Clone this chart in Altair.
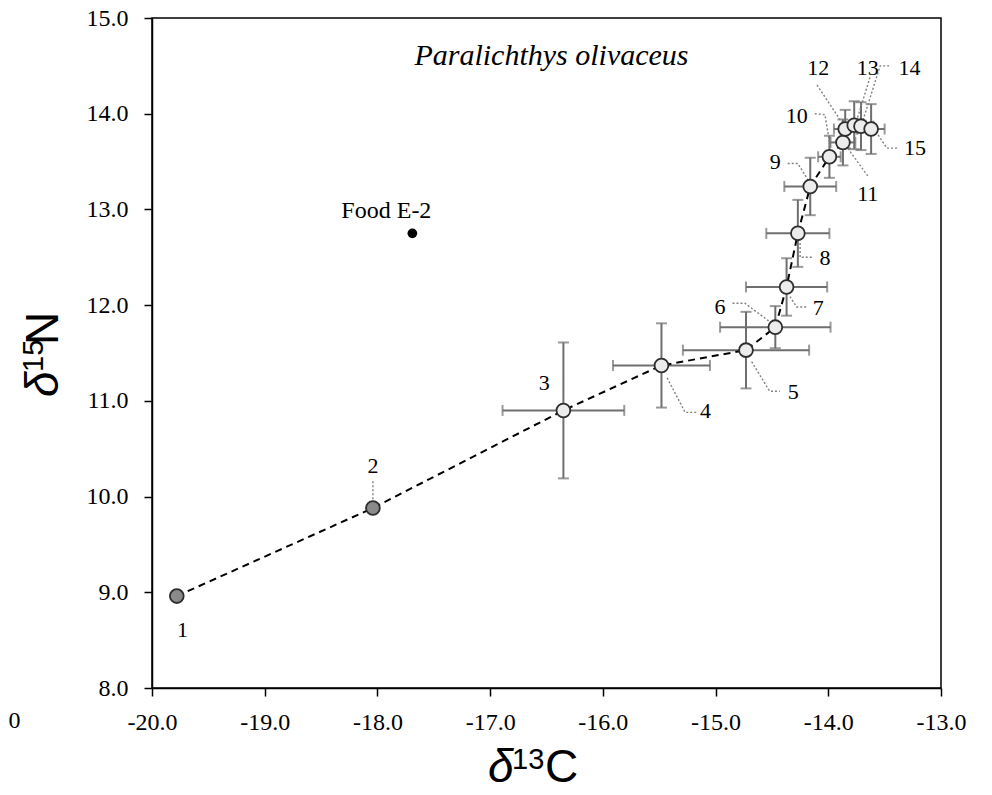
import altair as alt
import pandas as pd

# ---- data ----
stage = [str(i) for i in range(1, 16)]
d13c = [-19.78, -18.04, -16.35, -15.48, -14.73, -14.47, -14.37, -14.27,
        -14.16, -13.99, -13.87, -13.85, -13.77, -13.71, -13.62]
d15n = [8.96, 9.88, 10.90, 11.37, 11.53, 11.77, 12.19, 12.75,
        13.24, 13.55, 13.70, 13.84, 13.88, 13.87, 13.84]
sd_c = [0, 0, 0.54, 0.43, 0.56, 0.49, 0.36, 0.28, 0.23, 0.10, 0.11, 0.10, 0.10, 0.11, 0.12]
sd_n = [0, 0, 0.71, 0.44, 0.40, 0.22, 0.30, 0.35, 0.30, 0.22, 0.24, 0.20, 0.25, 0.25, 0.26]
group = ["early", "early"] + ["late"] * 13

food_name = ["Food E-2"]
food_c = [-17.69]
food_n = [12.75]

# annotation labels (data coordinates)
lab_text = ["1", "2", "3", "4", "5", "6", "7", "8", "9", "10", "11", "12", "13", "14", "15"]
lab_x = [-19.73, -18.04, -16.52, -15.09, -14.31, -14.96, -14.09, -14.03,
         -14.47, -14.28, -13.65, -14.09, -13.65, -13.28, -13.23]
lab_y = [8.61, 10.32, 11.19, 10.89, 11.09, 11.98, 11.97, 12.49,
         13.50, 13.98, 13.16, 14.48, 14.48, 14.48, 13.64]

# leader polylines
lead_id = ["2", "2",
           "4", "4", "4",
           "5", "5", "5",
           "6", "6", "6",
           "7", "7", "7",
           "8", "8", "8",
           "9", "9", "9",
           "10", "10", "10",
           "11", "11",
           "12", "12",
           "13", "13",
           "14", "14", "14",
           "15", "15", "15"]
lead_x = [-18.04, -18.04,
          -15.43, -15.27, -15.17,
          -14.68, -14.52, -14.43,
          -14.85, -14.74, -14.50,
          -14.34, -14.28, -14.19,
          -14.25, -14.25, -14.14,
          -14.36, -14.27, -14.18,
          -14.12, -14.03, -13.98,
          -13.65, -13.84,
          -14.10, -13.88,
          -13.63, -13.74,
          -13.46, -13.54, -13.69,
          -13.39, -13.48, -13.57]
lead_y = [10.16, 9.97,
          11.24, 10.88, 10.88,
          11.41, 11.10, 11.10,
          12.02, 12.02, 11.81,
          12.09, 11.98, 11.98,
          12.65, 12.50, 12.50,
          13.48, 13.48, 13.31,
          14.00, 13.99, 13.64,
          13.35, 13.66,
          14.30, 13.91,
          14.38, 13.96,
          14.50, 14.50, 13.94,
          13.64, 13.64, 13.80]

x_ticks = [-20, -19, -18, -17, -16, -15, -14, -13]
y_ticks = [8, 9, 10, 11, 12, 13, 14, 15]

df = pd.DataFrame({"stage": stage, "x": d13c, "y": d15n, "sc": sd_c, "sn": sd_n,
                   "grp": group, "order": list(range(len(stage)))})
df["xlo"] = df["x"] - df["sc"]
df["xhi"] = df["x"] + df["sc"]
df["ylo"] = df["y"] - df["sn"]
df["yhi"] = df["y"] + df["sn"]
bars = df[df["sc"] > 0]

food = pd.DataFrame({"name": food_name, "x": food_c, "y": food_n})
labs = pd.DataFrame({"t": lab_text, "x": lab_x, "y": lab_y})
lead = pd.DataFrame({"id": lead_id, "x": lead_x, "y": lead_y,
                     "seq": list(range(len(lead_id)))})

hyphen = "replace(format(datum.value, '.1f'), '\u2212', '-')"
xs = alt.Scale(domain=[-20, -13], nice=False, zero=False)
ys = alt.Scale(domain=[8, 15], nice=False, zero=False)
X = lambda f: alt.X(f, type="quantitative", scale=xs,
                    axis=alt.Axis(values=x_ticks, labelExpr=hyphen, title=""))
Y = lambda f: alt.Y(f, type="quantitative", scale=ys,
                    axis=alt.Axis(values=y_ticks, labelExpr=hyphen, title=""))

ebc = "#6f6f6f"
hbar = alt.Chart(bars).mark_rule(color=ebc, strokeWidth=2).encode(
    x=X("xlo"), x2="xhi", y=Y("y"))
vbar = alt.Chart(bars).mark_rule(color=ebc, strokeWidth=2).encode(
    x=X("x"), y=Y("ylo"), y2="yhi")
cap_l = alt.Chart(bars).mark_tick(orient="vertical", color=ebc, size=11, thickness=2).encode(
    x=X("xlo"), y=Y("y"))
cap_r = alt.Chart(bars).mark_tick(orient="vertical", color=ebc, size=11, thickness=2).encode(
    x=X("xhi"), y=Y("y"))
cap_b = alt.Chart(bars).mark_tick(orient="horizontal", color=ebc, size=11, thickness=2).encode(
    x=X("x"), y=Y("ylo"))
cap_t = alt.Chart(bars).mark_tick(orient="horizontal", color=ebc, size=11, thickness=2).encode(
    x=X("x"), y=Y("yhi"))

line = alt.Chart(df).mark_line(color="black", strokeWidth=2, strokeDash=[7, 5]).encode(
    x=X("x"), y=Y("y"), order="order:Q")

leaders = alt.Chart(lead).mark_line(color="#808080", strokeWidth=1.4, strokeDash=[2, 2]).encode(
    x=X("x"), y=Y("y"), detail="id:N", order="seq:Q")

pts = alt.Chart(df).mark_point(shape="circle", filled=True, size=190, stroke="#2e2e2e",
                               strokeWidth=1.8, opacity=1).encode(
    x=X("x"), y=Y("y"),
    fill=alt.Fill("grp:N", scale=alt.Scale(domain=["early", "late"],
                                           range=["#8a8a8a", "#ececec"]), legend=None))

food_pt = alt.Chart(food).mark_point(shape="circle", filled=True, size=95, color="black",
                                     opacity=1).encode(x=X("x"), y=Y("y"))
food_lab = alt.Chart(food).mark_text(font="Liberation Serif", fontSize=24, color="black",
                                     align="right", baseline="alphabetic", dx=19).transform_calculate(
    yy="datum.y + 0.16").encode(x=X("x"), y=Y("yy"), text="name:N")

num_labs = alt.Chart(labs).mark_text(font="Liberation Serif", fontSize=22, color="black",
                                     align="center", baseline="middle").encode(
    x=X("x"), y=Y("y"), text="t:N")

title_df = pd.DataFrame({"t": ["Paralichthys olivaceus"], "x": [-16.456], "y": [14.51]})
title = alt.Chart(title_df).mark_text(font="Liberation Serif", fontStyle="italic", fontSize=30,
                                      color="black", align="center", baseline="alphabetic").encode(
    x=X("x"), y=Y("y"), text="t:N")

stray_df = pd.DataFrame({"t": ["0"], "x": [-21.22], "y": [7.58]})
stray = alt.Chart(stray_df).mark_text(font="Liberation Serif", fontSize=24, color="black",
                                      align="center", baseline="alphabetic").encode(
    x=X("x"), y=Y("y"), text="t:N")


def tmark(txt, px, py, size, angle=0, italic=False):
    kw = dict(font="Liberation Sans", fontSize=size, color="black", align="left",
              baseline="alphabetic", angle=angle)
    if italic:
        kw["fontStyle"] = "italic"
    return alt.Chart(pd.DataFrame({"t": [txt]})).mark_text(**kw).encode(
        text="t:N", x=alt.value(px), y=alt.value(py))


xt = [tmark("δ", 336, 764, 46, italic=True), tmark("13", 360, 751, 29), tmark("C", 393, 764, 46)]
yt = [tmark("δ", -94, 379, 46, angle=270, italic=True), tmark("15", -109, 354, 29, angle=270),
      tmark("N", -94, 327, 46, angle=270)]

chart = alt.layer(hbar, vbar, cap_l, cap_r, cap_b, cap_t, line, leaders, pts, food_pt,
                  food_lab, num_labs, title, stray, *xt, *yt).properties(
    width=789, height=670,
    padding={"left": 144, "top": 10, "right": 40, "bottom": 99},
    autosize=alt.AutoSizeParams(type="none"),
    background="white",
).configure_view(stroke="black", strokeWidth=1.5).configure_axis(
    domainColor="black", domainWidth=1.5, tickColor="black", tickWidth=1.5, tickSize=8,
    labelFont="Liberation Serif", labelFontSize=24, labelColor="black", grid=False,
    labelPadding=14, labelFlush=False, labelOverlap=False,
).configure_axisY(labelPadding=16)

chart.save("out.html", embed_options={"renderer": "svg", "actions": False})
